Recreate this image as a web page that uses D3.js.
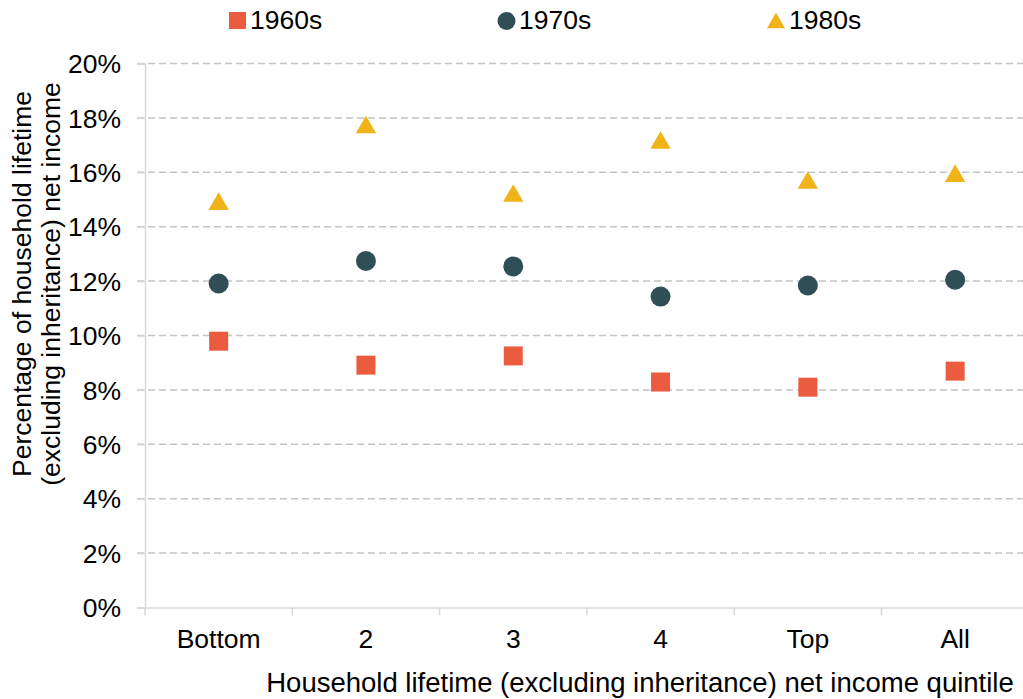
<!DOCTYPE html>
<html>
<head>
<meta charset="utf-8">
<script src="https://cdn.jsdelivr.net/npm/d3@7"></script>
<style>
  body { margin: 0; background: #fff; }
  svg text { font-family: "Liberation Sans", Arial, sans-serif; fill: #000; }
</style>
</head>
<body>
<div id="chart"></div>
<script>
const categories = ["Bottom", "2", "3", "4", "Top", "All"];
const s1960 = [9.79, 8.91, 9.25, 8.29, 8.10, 8.69];
const s1970 = [11.91, 12.74, 12.54, 11.43, 11.84, 12.05];
const s1980 = [14.94, 17.76, 15.24, 17.19, 15.72, 15.97];
const yTicks = [0, 2, 4, 6, 8, 10, 12, 14, 16, 18, 20];

const width = 1023, height = 699;
const plotLeft = 145, plotTop = 63.5, plotBottom = 607.5;
const fs = "26.5px";

const svg = d3.select("#chart").append("svg")
    .attr("width", width)
    .attr("height", height);

const x = d3.scaleBand().domain(categories).range([plotLeft, plotLeft + 6 * 147.3]);
const y = d3.scaleLinear().domain([0, 20]).range([plotBottom, plotTop]);

// gridlines
svg.append("g")
  .selectAll("line")
  .data(yTicks.filter(d => d > 0))
  .join("line")
    .attr("x1", 137).attr("x2", width)
    .attr("y1", d => y(d)).attr("y2", d => y(d))
    .attr("stroke", "#c4c4c4")
    .attr("stroke-width", 1.5)
    .attr("stroke-dasharray", "7,4");

// y axis
const yAxis = svg.append("g")
    .attr("transform", `translate(${plotLeft},0)`)
    .call(d3.axisLeft(y).tickValues(yTicks).tickSize(8).tickFormat(d => d + "%"));
yAxis.select(".domain").attr("stroke", "#d9d9d9").attr("stroke-width", 1.5);
yAxis.selectAll(".tick line").attr("stroke", "#d9d9d9").attr("stroke-width", 1.5);
yAxis.selectAll(".tick text")
    .attr("x", -24)
    .attr("dy", "0.35em")
    .style("font-size", fs);

// x axis
const xAxis = svg.append("g")
    .attr("transform", `translate(0,${plotBottom})`)
    .call(d3.axisBottom(x).tickSize(0).tickSizeOuter(0));
xAxis.select(".domain").attr("stroke", "#d9d9d9").attr("stroke-width", 1.5);
xAxis.selectAll(".tick text").attr("y", 40.5).attr("dy", 0).style("font-size", fs);
// category separator ticks
svg.append("g")
  .selectAll("line")
  .data(categories)
  .join("line")
    .attr("x1", d => x(d)).attr("x2", d => x(d))
    .attr("y1", plotBottom).attr("y2", plotBottom + 8)
    .attr("stroke", "#d9d9d9")
    .attr("stroke-width", 1.5);

// axis titles
svg.append("text")
    .attr("transform", "translate(31,284) rotate(-90)")
    .attr("text-anchor", "middle")
    .style("font-size", fs)
    .text("Percentage of household lifetime");
svg.append("text")
    .attr("transform", "translate(60,284) rotate(-90)")
    .attr("text-anchor", "middle")
    .style("font-size", fs)
    .text("(excluding inheritance) net income");
svg.append("text")
    .attr("x", 640).attr("y", 692)
    .attr("text-anchor", "middle")
    .style("font-size", "27.5px")
    .text("Household lifetime (excluding inheritance) net income quintile");

const cx = (d, i) => x(categories[i]) + x.bandwidth() / 2;

// 1960s squares
svg.append("g")
  .selectAll("rect")
  .data(s1960)
  .join("rect")
    .attr("x", (d, i) => cx(d, i) - 9.5)
    .attr("y", d => y(d) - 9.5)
    .attr("width", 19).attr("height", 19)
    .attr("fill", "#eb5b40");

// 1970s circles
svg.append("g")
  .selectAll("circle")
  .data(s1970)
  .join("circle")
    .attr("cx", cx)
    .attr("cy", d => y(d))
    .attr("r", 10)
    .attr("fill", "#2f4e55");

// 1980s triangles (shifted so the bounding box is centred on the value)
const tri = d3.symbol().type(d3.symbolTriangle).size(180);
svg.append("g")
  .selectAll("path")
  .data(s1980)
  .join("path")
    .attr("d", tri)
    .attr("transform", (d, i) => `translate(${cx(d, i)},${y(d) + 3})`)
    .attr("fill", "#f0b31a");

// legend
const legendTri = d3.symbol().type(d3.symbolTriangle).size(140);
const legend = svg.append("g").style("font-size", fs);
legend.append("rect").attr("x", 229).attr("y", 12).attr("width", 17).attr("height", 17).attr("fill", "#eb5b40");
legend.append("text").attr("x", 250).attr("y", 29).text("1960s");
legend.append("circle").attr("cx", 506.5).attr("cy", 21).attr("r", 9).attr("fill", "#2f4e55");
legend.append("text").attr("x", 519).attr("y", 29).text("1970s");
legend.append("path").attr("d", legendTri).attr("transform", "translate(776,23)").attr("fill", "#f0b31a");
legend.append("text").attr("x", 789).attr("y", 29).text("1980s");
</script>
</body>
</html>
